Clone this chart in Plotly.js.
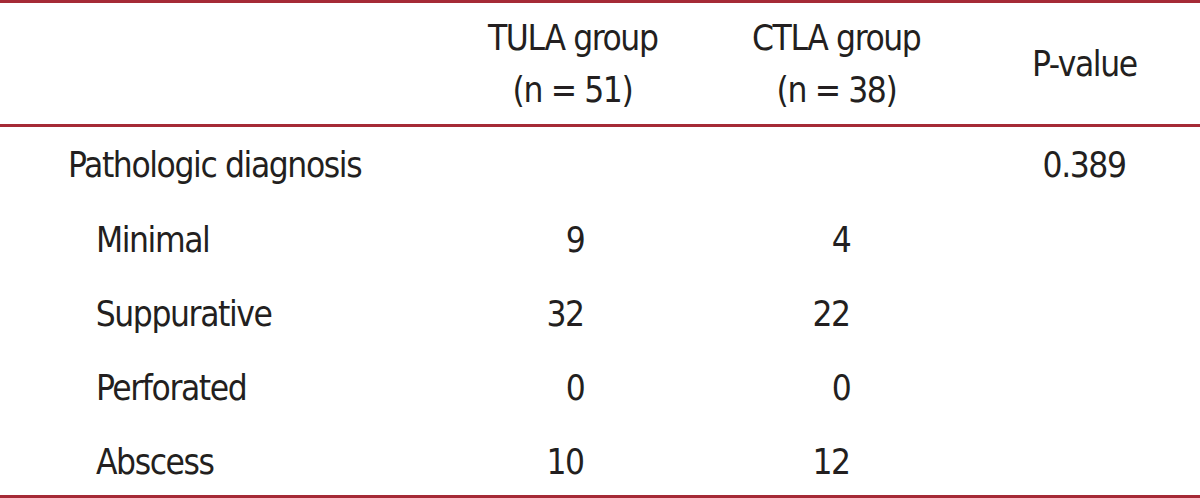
<!DOCTYPE html>
<html>
<head>
<meta charset="utf-8">
<script src="https://cdn.plot.ly/plotly-3.0.1.min.js"></script>
<style>
html,body{margin:0;padding:0;background:#fff;}
#chart{width:1200px;height:498px;}
#chart .annotation-text{letter-spacing:-1.4px;}
</style>
</head>
<body>
<div id="chart"></div>
<script>
// ---- data ----
const headerLine1 = ["TULA group", "CTLA group"];
const headerLine2 = ["(n = 51)", "(n = 38)"];
const pHeader = "P-value";
const sectionLabel = "Pathologic diagnosis";
const sectionP = "0.389";
const categories = ["Minimal", "Suppurative", "Perforated", "Abscess"];
const tula = [9, 32, 0, 10];
const ctla = [4, 22, 0, 12];

// ---- layout constants (pixels) ----
const W = 1200, H = 498;
const FONT = "'Liberation Sans Narrow', 'DejaVu Sans Condensed', 'Roboto Condensed', 'Arial Narrow', 'Liberation Sans', sans-serif";
const SIZE = 35;
const LS = 1.4; // css letter tightening, compensated below
const TXT = "#231f20";
const RED = "#a52a36";
const groupCenters = [572, 836];
const numRight = [585, 851];
const pCenter = 1084;
const headerY = [38, 90];
const sectionY = 165;
const rowY0 = 240, rowStep = 74;
const sectionX = 67, catX = 95;

const px = x => x / W;
const py = y => 1 - y / H;

function ann(text, x, y, xanchor) {
  let adj = 0;
  if (xanchor === "left") adj = -LS / 2 * text.length;
  if (xanchor === "right") adj = LS / 2 * text.length;
  return {
    text: text, xref: "paper", yref: "paper",
    x: px(x + adj), y: py(y), xanchor: xanchor, yanchor: "middle",
    showarrow: false, borderpad: 0,
    font: {family: FONT, size: SIZE, color: TXT}
  };
}

const annotations = [];
headerLine1.forEach((t, i) => annotations.push(ann(t, groupCenters[i], headerY[0], "center")));
headerLine2.forEach((t, i) => annotations.push(ann(t, groupCenters[i], headerY[1], "center")));
annotations.push(ann(pHeader, pCenter, (headerY[0] + headerY[1]) / 2, "center"));
annotations.push(ann(sectionLabel, sectionX, sectionY, "left"));
annotations.push(ann(sectionP, pCenter, sectionY, "center"));
categories.forEach((c, i) => {
  const y = rowY0 + i * rowStep;
  annotations.push(ann(c, catX, y, "left"));
  annotations.push(ann(String(tula[i]), numRight[0], y, "right"));
  annotations.push(ann(String(ctla[i]), numRight[1], y, "right"));
});

function hline(y) {
  return {type: "line", xref: "paper", yref: "paper", x0: 0, x1: 1, y0: py(y), y1: py(y),
          line: {color: RED, width: 3}};
}

const layout = {
  width: W, height: H,
  margin: {l: 0, r: 0, t: 0, b: 0},
  paper_bgcolor: "#ffffff", plot_bgcolor: "#ffffff",
  xaxis: {visible: false, range: [0, 1]},
  yaxis: {visible: false, range: [0, 1]},
  showlegend: false,
  annotations: annotations,
  shapes: [hline(1.5), hline(125.5), hline(496.5)]
};

Plotly.newPlot("chart", [], layout, {staticPlot: true, displayModeBar: false});
</script>
</body>
</html>
